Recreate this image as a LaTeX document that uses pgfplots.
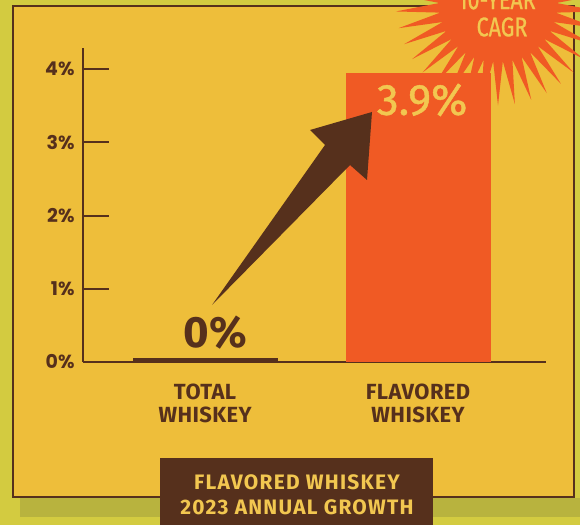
\documentclass[border=0pt]{standalone}
\usepackage{pgfplots}
\pgfplotsset{compat=1.18}
\usepackage{fontspec}
\setmainfont{Fira Sans}
\newfontfamily\popfont{Poppins}
\usetikzlibrary{shapes.geometric}

\definecolor{bgout}{HTML}{D3CB40}
\definecolor{bgshade}{HTML}{B8B33E}
\definecolor{panel}{HTML}{EEBE3A}
\definecolor{brownC}{HTML}{56301C}
\definecolor{orangeC}{HTML}{F05A24}
\definecolor{yellowT}{HTML}{F2C750}

\begin{document}
\begin{tikzpicture}[x=1bp,y=1bp]
\path[use as bounding box] (0,0) rectangle (580,525);
\clip (0,0) rectangle (580,525);
\fill[bgout] (0,0) rectangle (580,525);
\fill[bgshade] (20,8) rectangle (580,27);
\fill[panel, draw=brownC, line width=2bp] (13,28) rectangle (574,519);

% starburst
\node[star, star points=38, star point ratio=1.75, fill=orangeC, minimum size=205bp, inner sep=0pt] at (498,522) {};
\node[text=yellowT, font=\fontsize{27}{27}\selectfont\addfontfeatures{FakeBold=1}, xscale=0.8] at (497,525) {10-YEAR};
\node[text=yellowT, font=\fontsize{27}{27}\selectfont\addfontfeatures{FakeBold=1}, xscale=0.8] at (502,498) {CAGR};

\begin{axis}[
  at={(83bp,163bp)}, anchor=south west,
  scale only axis, width=463bp, height=314bp,
  xmin=-0.573, xmax=1.601, ymin=0, ymax=4.29,
  axis x line*=bottom, axis y line*=left,
  axis line style={-, brownC, line width=2bp},
  ytick={1,2,3,4}, yticklabels={1\%,2\%,3\%,4\%},
  extra y ticks={0}, extra y tick labels={0\%},
  extra y tick style={major tick length=0pt},
  xtick={0,1}, xticklabels={{TOTAL\\WHISKEY},{FLAVORED\\WHISKEY}},
  tick align=inside, major tick length=26bp,
  y tick style={brownC, line width=2bp},
  x tick style={draw=none},
  yticklabel style={font=\popfont\bfseries\fontsize{19}{19}\selectfont, text=brownC, xshift=-5bp},
  xticklabel style={align=center, font=\bfseries\fontsize{22}{24}\selectfont\addfontfeatures{LetterSpace=2}, text=brownC, yshift=-18bp},
  clip=false,
]
\addplot[ybar, bar shift=0pt, bar width=145bp, fill=brownC, draw=none] coordinates {(0,0.06)};
\addplot[ybar, bar shift=0pt, bar width=145bp, fill=orangeC, draw=none] coordinates {(1,3.95)};
\node[text=brownC, font=\bfseries\fontsize{44}{44}\selectfont] at (axis cs:0.047,0.40) {0\%};
\node[text=yellowT, font=\fontsize{44}{44}\selectfont\addfontfeatures{FakeBold=1}] at (axis cs:1.019,3.58) {3.9\%};
\end{axis}

% arrow
\fill[brownC] (212,220) -- (350,360) -- (367,345) -- (372,413) -- (310,395) -- (325,380) -- cycle;

% bottom title
\fill[brownC] (160,-5) rectangle (433,67);
\node[text=yellowT, font=\bfseries\fontsize{21}{25}\selectfont\addfontfeatures{LetterSpace=6}, align=center] at (297,30) {FLAVORED WHISKEY\\2023 ANNUAL GROWTH};
\end{tikzpicture}
\end{document}
